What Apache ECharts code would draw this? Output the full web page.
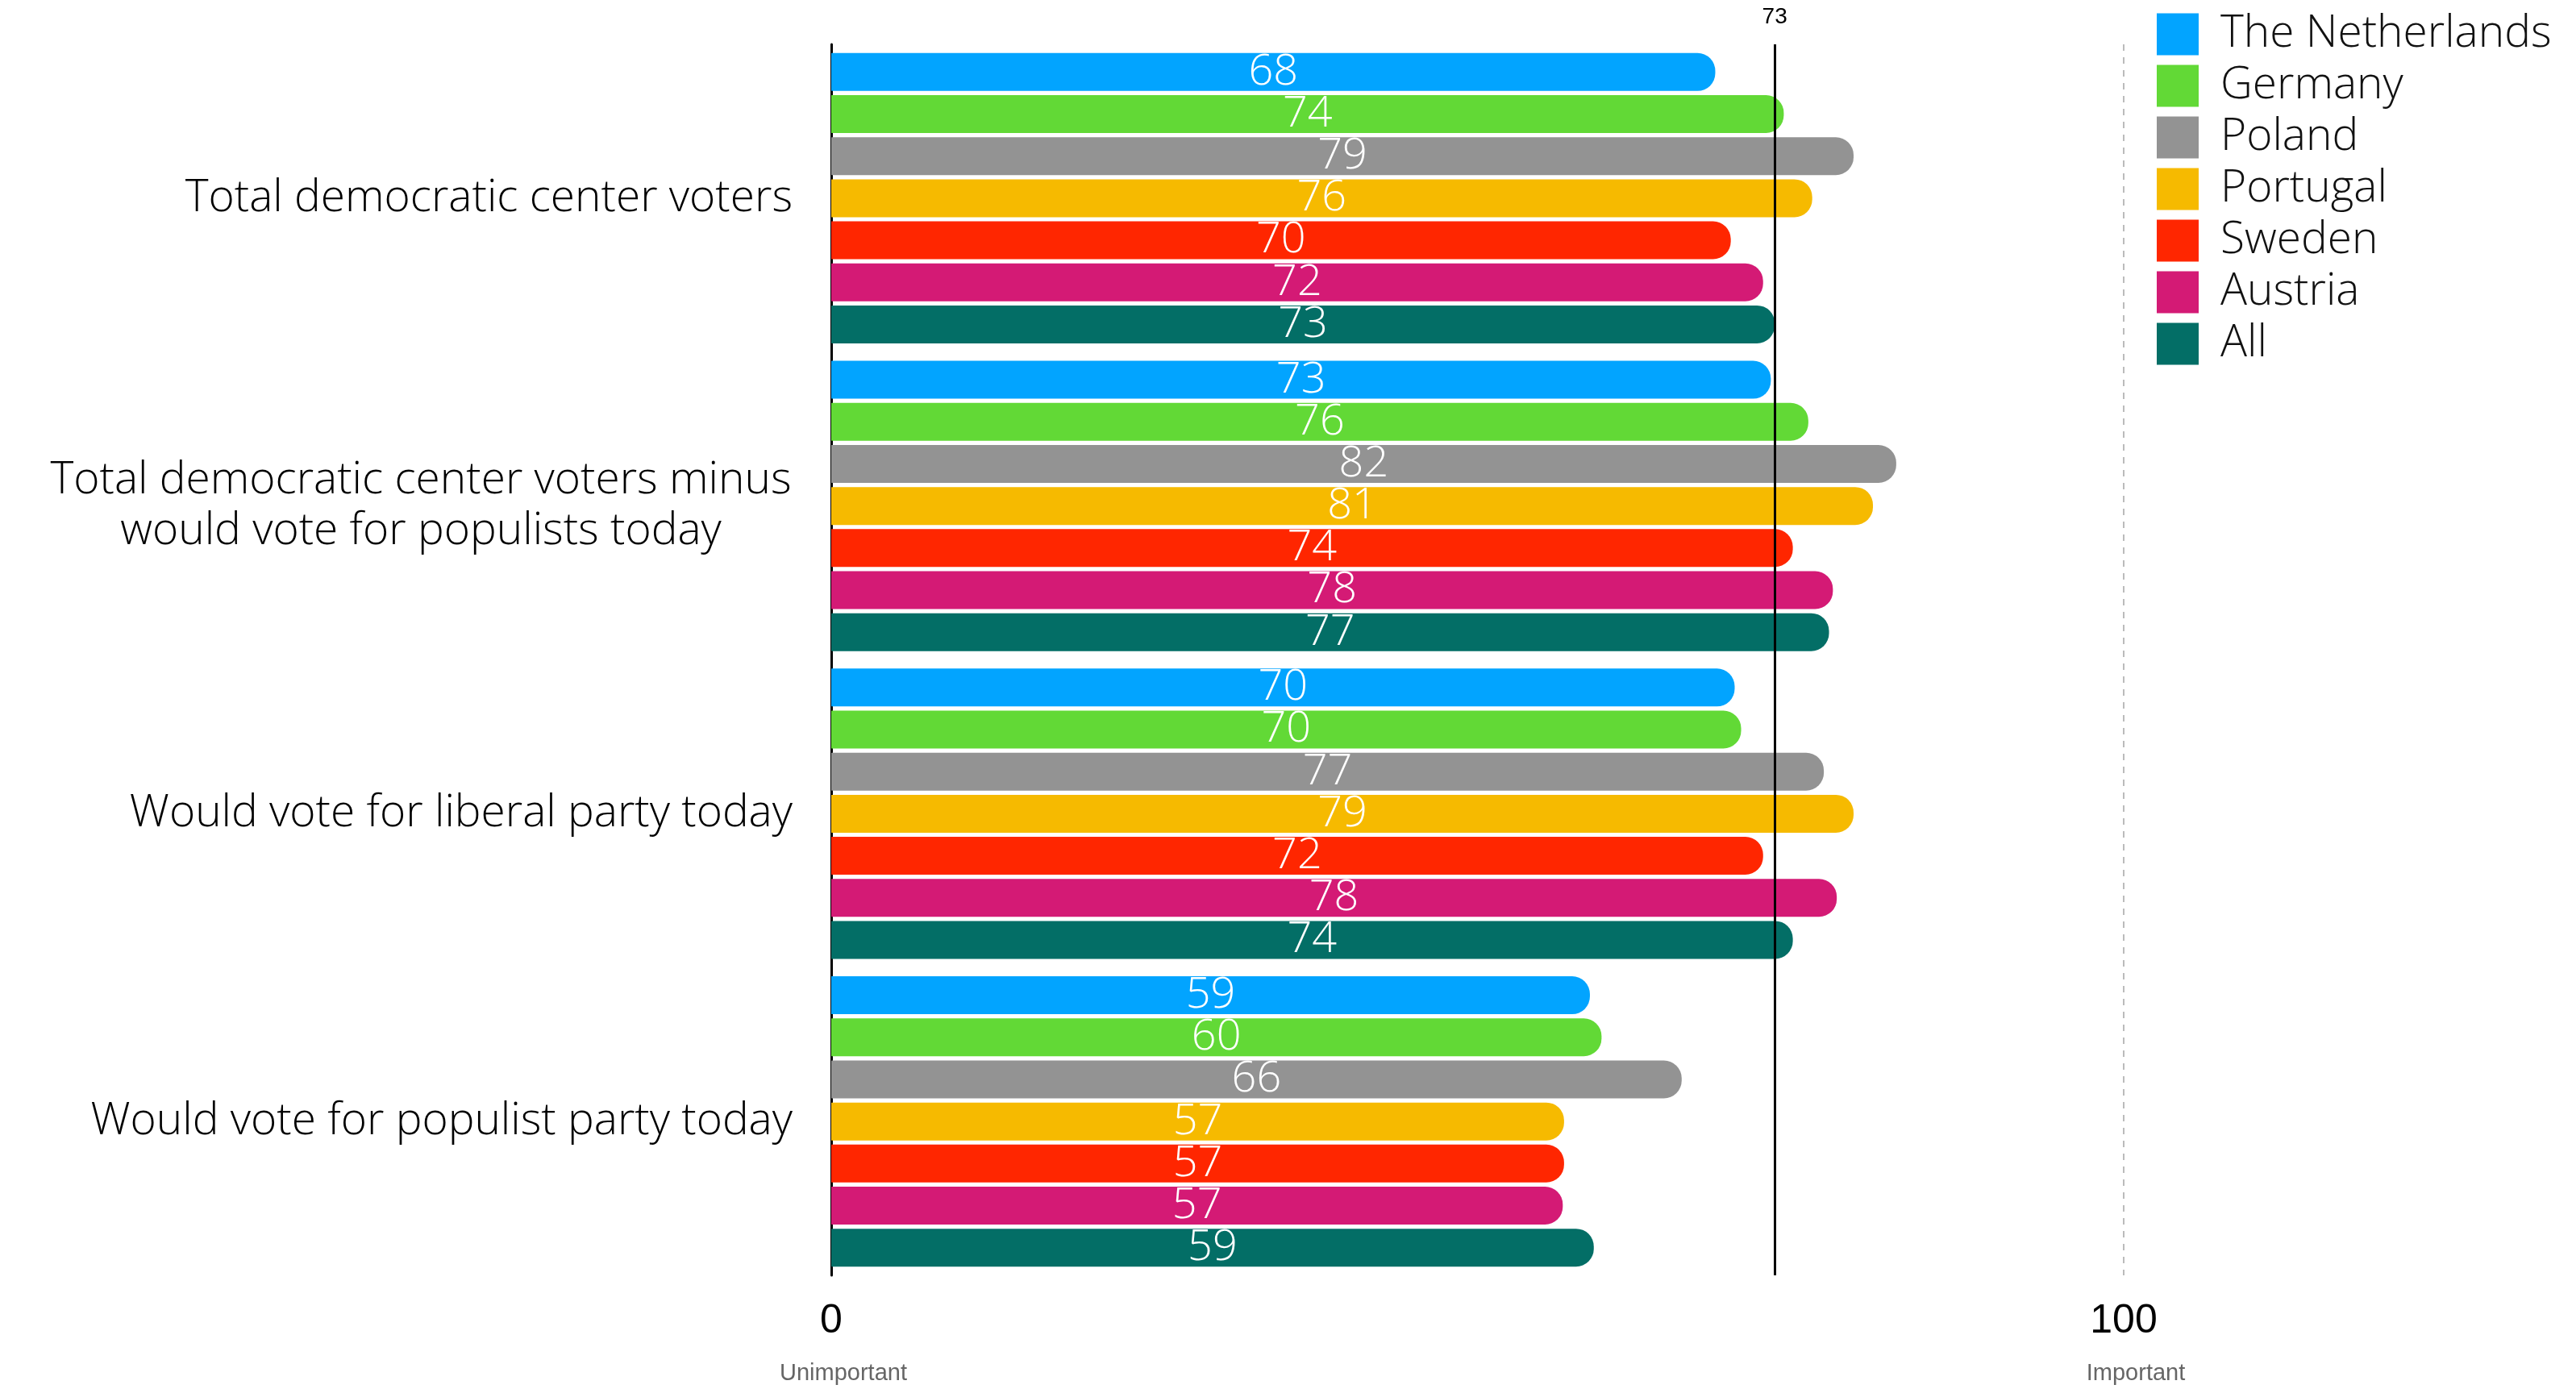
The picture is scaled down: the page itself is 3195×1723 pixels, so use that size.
<!DOCTYPE html>
<html>
<head>
<meta charset="utf-8">
<script src="https://cdn.jsdelivr.net/npm/echarts@6/dist/echarts.min.js"></script>
<style>
html,body{margin:0;padding:0;background:#fff;}
#chart{width:3195px;height:1723px;}
</style>
</head>
<body>
<div id="chart"></div>
<script>
const categories = [
  'Total democratic center voters',
  'Total democratic center voters minus\nwould vote for populists today',
  'Would vote for liberal party today',
  'Would vote for populist party today'
];
const countries = ['The Netherlands', 'Germany', 'Poland', 'Portugal', 'Sweden', 'Austria', 'All'];
const colors = ['#02A4FF', '#62D936', '#939393', '#F6BA00', '#FF2600', '#D41A75', '#036E66'];

const netherlands = [68.4, 72.7, 69.9, 58.7];
const germany     = [73.7, 75.6, 70.4, 59.6];
const poland      = [79.1, 82.4, 76.8, 65.8];
const portugal    = [75.9, 80.6, 79.1, 56.7];
const sweden      = [69.6, 74.4, 72.1, 56.7];
const austria     = [72.1, 77.5, 77.8, 56.6];
const all         = [73.0, 77.2, 74.4, 59.0];
const referenceValue = 73;
const tickLabels = {0: ['0', 'Unimportant'], 100: ['100', 'Important']};

const seriesValues = [netherlands, germany, poland, portugal, sweden, austria, all];
const LIGHT = 'Open Sans';
const FS = 55;      // category + legend text
const VFS = 54;     // value labels

// measure widest line of multi-line category label for centred block
const ctx = document.createElement('canvas').getContext('2d');
ctx.font = '300 ' + FS + 'px "' + LIGHT + '"';
let blockW = 0;
categories.forEach(c => c.split('\n').forEach(l => { blockW = Math.max(blockW, ctx.measureText(l).width); }));
blockW = Math.ceil(blockW) + 2;

const series = countries.map((name, i) => {
  const s = {
    name: name,
    type: 'bar',
    data: seriesValues[i],
    barWidth: 47,
    barGap: '11%',
    itemStyle: {color: colors[i], borderRadius: [0, 22, 22, 0]},
    label: {
      show: true,
      position: 'inside',
      color: '#fff',
      fontFamily: LIGHT,
      fontWeight: 300,
      fontSize: VFS,
      formatter: p => String(Math.round(p.value))
    }
  };
  if (i === 0) {
    s.markLine = {
      silent: true,
      symbol: 'none',
      z: 10,
      lineStyle: {color: '#000', width: 3, type: 'solid'},
      label: {
        show: true, position: 'start', distance: 20,
        formatter: String(referenceValue),
        color: '#000', fontSize: 28, fontFamily: 'Liberation Sans'
      },
      data: [{xAxis: referenceValue}]
    };
  }
  return s;
});

const chart = echarts.init(document.getElementById('chart'), null, {renderer: 'canvas'});
chart.setOption({
  animation: false,
  backgroundColor: '#fff',
  color: colors,
  grid: {left: 1031, right: 561, top: 55, bottom: 141, containLabel: false},
  legend: {
    orient: 'vertical',
    left: 2670,
    top: 10,
    itemWidth: 52,
    itemHeight: 52,
    itemGap: 9,
    icon: 'rect',
    data: countries,
    textStyle: {
      fontFamily: LIGHT, fontWeight: 300, fontSize: FS, color: '#111',
      lineHeight: 52, padding: [0, 0, 0, 22]
    }
  },
  xAxis: {
    type: 'value',
    min: 0,
    max: 100,
    interval: 100,
    axisLine: {show: false},
    axisTick: {show: false},
    splitLine: {show: true, lineStyle: {color: '#bbb', type: [8, 8], width: 2}},
    axisLabel: {
      margin: 27,
      formatter: v => {
        const t = tickLabels[v];
        return t ? '{n|' + t[0] + '}\n{s|' + t[1] + '}' : '';
      },
      rich: {
        n: {fontFamily: 'Liberation Sans', fontSize: 50, color: '#000', lineHeight: 60},
        s: {fontFamily: 'Liberation Sans', fontSize: 29, color: '#666', lineHeight: 70, padding: [0, 0, 0, 30]}
      }
    }
  },
  yAxis: {
    type: 'category',
    inverse: true,
    data: categories,
    axisLine: {show: true, lineStyle: {color: '#000', width: 3}},
    axisTick: {show: false},
    axisLabel: {
      margin: 48,
      color: '#000',
      fontFamily: LIGHT,
      fontWeight: 300,
      fontSize: FS,
      formatter: v => {
        const lines = v.split('\n');
        if (lines.length === 1) return '{t|' + v + '}';
        return lines.map(l => '{w|' + l + '}').join('\n');
      },
      rich: {
        t: {fontFamily: LIGHT, fontWeight: 300, fontSize: FS, color: '#000', lineHeight: 63},
        w: {fontFamily: LIGHT, fontWeight: 300, fontSize: FS, color: '#000', lineHeight: 63, width: blockW, align: 'center'}
      }
    }
  },
  series: series
});
</script>
</body>
</html>
